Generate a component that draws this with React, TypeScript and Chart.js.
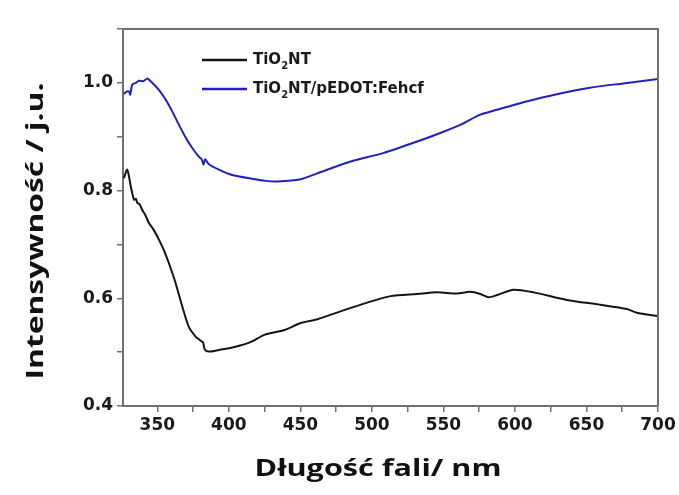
import React, { useEffect, useRef } from "react";
import { Chart, registerables } from "chart.js";

Chart.register(...registerables);

const xTitle = "Długość fali/ nm";
const yTitle = "Intensywność / j.u.";
const legendLabels = [
  ["TiO", "2", "NT"],
  ["TiO", "2", "NT/pEDOT:Fehcf"],
];
const xTickValues = [350, 375, 400, 425, 450, 475, 500, 525, 550, 575, 600, 625, 650, 675, 700];
const xLabelStep = 50;

const blueX = [326.7, 328, 330.2, 331, 332.5, 335, 337.2, 340, 343, 345.3, 348, 351.1, 355.8, 360.4, 365.1, 369.7, 374.4, 379, 381, 382.3, 383.5, 386, 393, 402.3, 416.2, 425.6, 433.9, 450.2, 461.8, 485.1, 508.4, 531.6, 547.8, 561.8, 575.7, 587.3, 605.9, 629.2, 652.4, 675.7, 700];
const blueY = [0.979, 0.983, 0.984, 0.978, 0.997, 1.0, 1.004, 1.003, 1.008, 1.003, 0.996, 0.987, 0.969, 0.947, 0.922, 0.899, 0.879, 0.863, 0.858, 0.848, 0.858, 0.849, 0.839, 0.829, 0.822, 0.818, 0.817, 0.821, 0.832, 0.854, 0.87, 0.891, 0.907, 0.922, 0.941, 0.95, 0.964, 0.979, 0.991, 0.999, 1.007];

const blackX = [326.7, 328, 329, 330.2, 331.4, 332.5, 333.7, 335, 336, 337.5, 339.5, 341.5, 344.1, 347.5, 351.1, 354.5, 358.1, 362.8, 367.4, 372, 376.7, 379, 380.9, 382, 383.2, 386, 393, 404.6, 415.5, 424.8, 438.8, 450.2, 461.9, 480.5, 496.7, 513, 531.6, 545.6, 559.5, 568.8, 575.8, 581.6, 587.5, 599, 613, 636.2, 659.6, 678.2, 685.2, 700];
const blackY = [0.823, 0.834, 0.839, 0.826, 0.808, 0.795, 0.783, 0.785, 0.777, 0.775, 0.764, 0.755, 0.74, 0.727, 0.709, 0.69, 0.665, 0.628, 0.585, 0.547, 0.529, 0.524, 0.52, 0.518, 0.505, 0.501, 0.504, 0.51, 0.519, 0.532, 0.541, 0.554, 0.561, 0.578, 0.592, 0.604, 0.608, 0.611, 0.609, 0.612, 0.608, 0.602, 0.606, 0.616, 0.611, 0.597, 0.588, 0.58, 0.573, 0.567];

const seriesColors = ["#141414", "#2020c0"];
const AXIS = "#707070";

const toPoints = (xs: number[], ys: number[]) => xs.map((x, i) => ({ x, y: ys[i] }));

const decorPlugin = {
  id: "decor",
  afterDraw(chart: any) {
    const { ctx, chartArea } = chart;
    const { left, right, top, bottom } = chartArea;
    ctx.save();
    ctx.strokeStyle = AXIS;
    ctx.lineWidth = 2;
    ctx.beginPath();
    ctx.moveTo(left, top);
    ctx.lineTo(right, top);
    ctx.lineTo(right, bottom);
    ctx.stroke();

    const lx0 = left + 79;
    const lx1 = left + 124;
    const ly = [top + 31, top + 60];
    legendLabels.forEach((parts, i) => {
      ctx.strokeStyle = seriesColors[i];
      ctx.lineWidth = 2.5;
      ctx.beginPath();
      ctx.moveTo(lx0, ly[i]);
      ctx.lineTo(lx1, ly[i]);
      ctx.stroke();
      ctx.fillStyle = "#1a1a1a";
      ctx.textBaseline = "middle";
      ctx.textAlign = "left";
      let x = lx1 + 6;
      ctx.font = 'bold 15px "DejaVu Sans"';
      ctx.fillText(parts[0], x, ly[i]);
      x += ctx.measureText(parts[0]).width;
      ctx.font = 'bold 10px "DejaVu Sans"';
      ctx.fillText(parts[1], x, ly[i] + 6);
      x += ctx.measureText(parts[1]).width;
      ctx.font = 'bold 15px "DejaVu Sans"';
      ctx.fillText(parts[2], x, ly[i]);
    });

    ctx.fillStyle = "#111";
    ctx.textAlign = "center";
    ctx.textBaseline = "middle";
    ctx.font = 'bold 24px "Open Sans"';
    const wx = ctx.measureText(xTitle).width;
    ctx.save();
    ctx.translate(378, 469);
    ctx.scale(247 / wx, 1);
    ctx.fillText(xTitle, 0, 0);
    ctx.restore();

    const wy = ctx.measureText(yTitle).width;
    ctx.save();
    ctx.translate(36, 231);
    ctx.rotate(-Math.PI / 2);
    ctx.scale(297 / wy, 1);
    ctx.fillText(yTitle, 0, 0);
    ctx.restore();
    ctx.restore();
  },
};

export default function App() {
  const ref = useRef<HTMLCanvasElement | null>(null);
  useEffect(() => {
    if (!ref.current) return;
    const tickFont = { family: "DejaVu Sans", weight: "bold" as const, size: 17 };
    const chart = new Chart(ref.current, {
      type: "line",
      data: {
        datasets: [
          {
            label: "TiO2NT",
            data: toPoints(blackX, blackY),
            borderColor: seriesColors[0],
            borderWidth: 2,
            pointRadius: 0,
            tension: 0.25,
          },
          {
            label: "TiO2NT/pEDOT:Fehcf",
            data: toPoints(blueX, blueY),
            borderColor: seriesColors[1],
            borderWidth: 2,
            pointRadius: 0,
            tension: 0.25,
          },
        ],
      },
      options: {
        animation: false,
        responsive: false,
        maintainAspectRatio: false,
        layout: { padding: { top: 29, right: 21, left: 0, bottom: 0 } },
        plugins: { legend: { display: false }, tooltip: { enabled: false } },
        scales: {
          x: {
            type: "linear",
            min: 326,
            max: 700,
            border: { display: true, color: AXIS, width: 2 },
            grid: { display: true, drawOnChartArea: false, drawTicks: true, tickLength: 6, color: AXIS, lineWidth: 1.5 },
            ticks: {
              autoSkip: false,
              maxRotation: 0,
              padding: 3,
              color: "#1a1a1a",
              font: tickFont,
              callback: (v: any) => (Number(v) % xLabelStep === 0 ? String(v) : ""),
            },
            afterBuildTicks: (scale: any) => {
              scale.ticks = xTickValues.map((value) => ({ value }));
            },
            afterFit: (scale: any) => {
              scale.height = 89;
            },
          },
          y: {
            type: "linear",
            min: 0.4,
            max: 1.1,
            border: { display: true, color: AXIS, width: 2 },
            grid: { display: true, drawOnChartArea: false, drawTicks: true, tickLength: 6, color: AXIS, lineWidth: 1.5 },
            ticks: {
              stepSize: 0.1,
              autoSkip: false,
              padding: 4,
              color: "#1a1a1a",
              font: tickFont,
              callback: (v: any) => {
                const n = Math.round(Number(v) * 10);
                return n % 2 === 0 && n <= 10 ? (n / 10).toFixed(1) : "";
              },
            },
            afterFit: (scale: any) => {
              scale.width = 123;
            },
          },
        },
      },
      plugins: [decorPlugin],
    });
    return () => chart.destroy();
  }, []);
  return (
    <div style={{ position: "fixed", left: 0, top: 0, width: 679, height: 495, background: "#fff" }}>
      <canvas ref={ref} width={679} height={495} style={{ width: 679, height: 495, display: "block" }} />
    </div>
  );
}
